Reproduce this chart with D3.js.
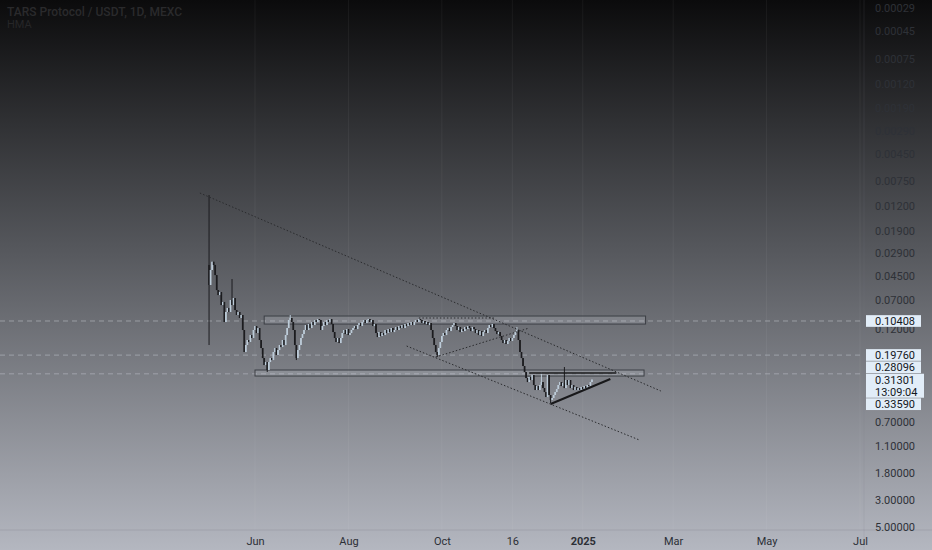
<!DOCTYPE html>
<html>
<head>
<meta charset="utf-8">
<script src="https://cdn.jsdelivr.net/npm/d3@7"></script>
<style>
  body { margin: 0; background: #000; }
  text { font-family: Roboto, "Noto Sans", sans-serif; }
</style>
</head>
<body>
<div id="chart"></div>
<script>
// ---- values ----
var symbolTitle = "TARS Protocol / USDT, 1D, MEXC";
var indicatorName = "HMA";
var firstDay = new Date(2024, 4, 2);
var firstOpen = 0.0363;
// daily closes, one per candle
var closes = [
  0.0529, 0.0399, 0.0342, 0.0363, 0.0439, 0.0582, 0.0639, 0.0604, 0.0771, 0.0728,
  0.1061, 0.0879, 0.0815, 0.0879, 0.0702, 0.0771, 0.0676, 0.0847, 0.0930, 0.0879,
  0.0984, 0.0930, 0.1233, 0.1865, 0.1635, 0.1488, 0.1545, 0.1355, 0.1433, 0.1233,
  0.1144, 0.1305, 0.1188, 0.1488, 0.1730, 0.2088, 0.2381, 0.2251, 0.2615, 0.2251,
  0.2088, 0.2168, 0.1865, 0.1730, 0.1973, 0.1796, 0.1635, 0.1698, 0.1488, 0.1635,
  0.1355, 0.1188, 0.1022, 0.0984, 0.1061, 0.1233, 0.1635, 0.2088, 0.1796, 0.1635,
  0.1433, 0.1330, 0.1233, 0.1123, 0.1233, 0.1102, 0.1188, 0.1061, 0.1123, 0.1022,
  0.1061, 0.1003, 0.1022, 0.1233, 0.1144, 0.1061, 0.1123, 0.1022, 0.1061, 0.1003,
  0.1102, 0.1281, 0.1433, 0.1545, 0.1433, 0.1575, 0.1433, 0.1305, 0.1233, 0.1330,
  0.1211, 0.1355, 0.1305, 0.1233, 0.1188, 0.1144, 0.1211, 0.1123, 0.1081, 0.1144,
  0.1061, 0.1022, 0.1081, 0.1022, 0.1003, 0.1061, 0.1022, 0.1144, 0.1102, 0.1305,
  0.1407, 0.1281, 0.1381, 0.1305, 0.1355, 0.1233, 0.1305, 0.1211, 0.1281, 0.1188,
  0.1281, 0.1233, 0.1166, 0.1233, 0.1144, 0.1188, 0.1123, 0.1188, 0.1102, 0.1144,
  0.1081, 0.1123, 0.1061, 0.1123, 0.1061, 0.1022, 0.1061, 0.1003, 0.1022, 0.1081,
  0.1041, 0.1102, 0.1061, 0.1123, 0.1081, 0.1233, 0.1433, 0.1635, 0.1865, 0.1973,
  0.1730, 0.1545, 0.1381, 0.1305, 0.1355, 0.1233, 0.1188, 0.1257, 0.1166, 0.1123,
  0.1081, 0.1144, 0.1233, 0.1166, 0.1281, 0.1211, 0.1257, 0.1166, 0.1211, 0.1144,
  0.1188, 0.1257, 0.1166, 0.1211, 0.1305, 0.1233, 0.1355, 0.1257, 0.1381, 0.1281,
  0.1233, 0.1305, 0.1188, 0.1123, 0.1166, 0.1102, 0.1188, 0.1257, 0.1330, 0.1281,
  0.1381, 0.1488, 0.1575, 0.1488, 0.1604, 0.1516, 0.1433, 0.1516, 0.1433, 0.1355,
  0.1281, 0.1233, 0.1488, 0.1865, 0.2088, 0.2427, 0.2716, 0.3040, 0.3278, 0.2984,
  0.3157, 0.2874, 0.3468, 0.3809, 0.3534, 0.3809, 0.3468, 0.3278, 0.3670, 0.3956,
  0.4345, 0.2874, 0.4184, 0.4596, 0.4427, 0.4184, 0.3956, 0.3739, 0.3468, 0.3278,
  0.3534, 0.3340, 0.3670, 0.3157, 0.3468, 0.3157, 0.3670, 0.3468, 0.3809, 0.3601,
  0.3809, 0.3670, 0.3809, 0.3601, 0.3739, 0.3534, 0.3670, 0.3468, 0.3534, 0.3278,
  0.31301
];
// long wicks that stick out of the body: [candle index, low, high]
var wicks = [
  [0, 0.00975, 0.1635], [15, 0.0473, 0.0771], [38, 0.2251, 0.2716],
  [53, 0.0930, 0.1022], [57, 0.1635, 0.2168], [149, 0.1865, 0.2049],
  [201, 0.1166, 0.1281], [217, 0.2716, 0.3468], [223, 0.4184, 0.4863],
  [232, 0.2473, 0.3670]
];
var priceTicks = [0.00029, 0.00045, 0.00075, 0.0012, 0.0019, 0.0029, 0.0045, 0.0075,
  0.012, 0.019, 0.029, 0.045, 0.07, 0.12, 0.7, 1.1, 1.8, 3, 5];
var dateTicks = [new Date(2024, 5, 1), new Date(2024, 7, 1), new Date(2024, 9, 1),
  new Date(2024, 10, 16), new Date(2025, 0, 1), new Date(2025, 2, 1),
  new Date(2025, 4, 1), new Date(2025, 6, 1)];
var dateLabels = ["Jun", "Aug", "Oct", "16", "2025", "Mar", "May", "Jul"];
var levelLines = [0.10408, 0.19760, 0.28096];
var lastPrice = 0.31301, countdown = "13:09:04", hmaLast = 0.33590;
var boxFrom = [new Date(2024, 5, 7), new Date(2024, 5, 1)];
var boxTo = [new Date(2025, 1, 11), new Date(2025, 1, 10)];
var boxLow = [0.0948, 0.2615];
var boxHigh = [0.1102, 0.2928];
var dottedLines = [
  [new Date(2024, 3, 26), 0.00939, new Date(2025, 1, 21), 0.3882],
  [new Date(2024, 8, 8), 0.1666, new Date(2025, 1, 7), 0.975],
  [new Date(2024, 8, 27), 0.2049, new Date(2024, 10, 27), 0.1188],
  [new Date(2024, 8, 16), 0.0984, new Date(2024, 10, 4), 0.0984]
];
var solidLines = [
  [new Date(2024, 10, 27), 0.2767, new Date(2025, 0, 23), 0.2767, 1.5],
  [new Date(2024, 11, 11), 0.4953, new Date(2025, 0, 19), 0.3098, 2]
];

var W = 932, H = 550, plotRight = 864, plotBottom = 530;

var svg = d3.select("#chart").append("svg")
  .attr("width", W).attr("height", H);

// background gradient
var defs = svg.append("defs");
var grad = defs.append("linearGradient").attr("id", "bg")
  .attr("x1", 0).attr("y1", 0).attr("x2", 0).attr("y2", 1);
grad.append("stop").attr("offset", "0%").attr("stop-color", "#0b0b0c");
grad.append("stop").attr("offset", "45%").attr("stop-color", "#55575c");
grad.append("stop").attr("offset", "100%").attr("stop-color", "#b4b7c0");
defs.append("clipPath").attr("id", "plot")
  .append("rect").attr("width", plotRight).attr("height", plotBottom);
svg.append("rect").attr("width", W).attr("height", H).attr("fill", "url(#bg)");

// scales (price axis inverted log)
var x = d3.scaleTime()
  .domain([new Date(2024, 5, 1), new Date(2025, 6, 1)])
  .range([255, 860]);
var y = d3.scaleLog().domain([0.00029, 5]).range([8, 527]);

// grid
svg.append("g").selectAll("line").data(dateTicks).enter().append("line")
  .attr("x1", d => x(d)).attr("x2", d => x(d))
  .attr("y1", 0).attr("y2", plotBottom)
  .attr("stroke", "rgba(255,255,255,0.05)");

var plot = svg.append("g").attr("clip-path", "url(#plot)");

// horizontal level lines
plot.selectAll(".lvl").data(levelLines).enter().append("line")
  .attr("x1", 0).attr("x2", plotRight)
  .attr("y1", d => y(d)).attr("y2", d => y(d))
  .attr("stroke", "#b3b7bf").attr("stroke-opacity", 0.65)
  .attr("stroke-dasharray", "5,4");

// rectangles
boxFrom.forEach(function (d, i) {
  plot.append("rect")
    .attr("x", x(d)).attr("width", x(boxTo[i]) - x(d))
    .attr("y", y(boxLow[i])).attr("height", y(boxHigh[i]) - y(boxLow[i]))
    .attr("fill", "rgba(200,205,215,0.22)")
    .attr("stroke", "#3c3f45").attr("stroke-width", 1);
});

// candles
var candles = closes.map(function (c, i) {
  var o = i == 0 ? firstOpen : closes[i - 1];
  return { date: d3.timeDay.offset(firstDay, i), o: o, c: c,
    lo: Math.min(o, c), hi: Math.max(o, c) };
});
wicks.forEach(function (w) {
  candles[w[0]].lo = Math.min(candles[w[0]].lo, w[1]);
  candles[w[0]].hi = Math.max(candles[w[0]].hi, w[2]);
});
var colUp = "#1c1c1f", colDown = "#bccbd8";
plot.selectAll(".wick").data(candles).enter().append("line")
  .attr("x1", d => x(d.date)).attr("x2", d => x(d.date))
  .attr("y1", d => y(d.lo)).attr("y2", d => y(d.hi))
  .attr("stroke", d => d.c >= d.o ? colUp : colDown).attr("stroke-width", 1);
plot.selectAll(".body").data(candles).enter().append("rect")
  .attr("x", d => x(d.date) - 0.85).attr("width", 1.7)
  .attr("y", d => y(Math.min(d.o, d.c)))
  .attr("height", d => Math.max(1, Math.abs(y(d.c) - y(d.o))))
  .attr("fill", d => d.c >= d.o ? colUp : colDown);

// trend lines
plot.selectAll(".dot").data(dottedLines).enter().append("line")
  .attr("x1", d => x(d[0])).attr("y1", d => y(d[1]))
  .attr("x2", d => x(d[2])).attr("y2", d => y(d[3]))
  .attr("stroke", "#2a2b2e").attr("stroke-width", 1)
  .attr("stroke-dasharray", "1.5,2");
plot.selectAll(".sol").data(solidLines).enter().append("line")
  .attr("x1", d => x(d[0])).attr("y1", d => y(d[1]))
  .attr("x2", d => x(d[2])).attr("y2", d => y(d[3]))
  .attr("stroke", "#18181a").attr("stroke-width", d => d[4]);

// axis separators
svg.append("line").attr("x1", plotRight).attr("x2", plotRight)
  .attr("y1", 0).attr("y2", H).attr("stroke", "rgba(120,124,134,0.15)");
svg.append("line").attr("x1", 0).attr("x2", W)
  .attr("y1", plotBottom).attr("y2", plotBottom).attr("stroke", "rgba(120,124,134,0.25)");

// price axis
var yAxis = svg.append("g").attr("transform", "translate(" + plotRight + ",0)")
  .call(d3.axisRight(y).tickValues(priceTicks).tickSize(0).tickPadding(11)
    .tickFormat(d3.format(".5f")));
yAxis.select(".domain").remove();
yAxis.selectAll("text").attr("fill", "#2e3137").style("font-size", "11px");

// date axis
var xAxis = svg.append("g").attr("transform", "translate(0," + plotBottom + ")")
  .call(d3.axisBottom(x).tickValues(dateTicks).tickSize(0).tickPadding(7)
    .tickFormat((d, i) => dateLabels[i]));
xAxis.select(".domain").remove();
xAxis.selectAll("text").attr("fill", "#2c2f36").style("font-size", "11px")
  .style("font-weight", (d, i) => dateLabels[i] == "2025" ? "bold" : "normal");

// price labels, stacked around the current price box
var rowH = 12.3;
var cy = y(lastPrice);
var curTop = cy - rowH / 2, curBot = curTop + rowH * 2;
var labels = [];
var above = levelLines.filter(v => y(v) < cy).sort((a, b) => y(b) - y(a));
var lim = curTop;
above.forEach(function (v) {
  var p = Math.min(y(v), lim - rowH / 2);
  labels.push({ v: v, y: p });
  lim = p - rowH / 2;
});
var p2 = Math.max(y(hmaLast), curBot + rowH / 2);
labels.push({ v: hmaLast, y: p2 });
var labFill = "#e2edf8";
labels.forEach(function (l) {
  svg.append("rect").attr("x", 866).attr("y", l.y - rowH / 2 + 0.3)
    .attr("width", 55).attr("height", rowH - 0.6).attr("fill", labFill);
  svg.append("text").attr("x", 875).attr("y", l.y + 4)
    .attr("fill", "#131722").style("font-size", "11px").text(d3.format(".5f")(l.v));
});
svg.append("rect").attr("x", 866).attr("y", curTop + 0.3)
  .attr("width", 58).attr("height", rowH * 2 - 0.6).attr("fill", labFill);
svg.append("text").attr("x", 875).attr("y", cy + 4)
  .attr("fill", "#131722").style("font-size", "11px").text(d3.format(".5f")(lastPrice));
svg.append("text").attr("x", 875).attr("y", cy + rowH + 4)
  .attr("fill", "#131722").style("font-size", "11px").text(countdown);

// legend
svg.append("text").attr("x", 7).attr("y", 16)
  .attr("fill", "#2a2a2c").style("font-size", "12px").style("font-weight", "500")
  .text(symbolTitle);
svg.append("text").attr("x", 7).attr("y", 28)
  .attr("fill", "#262628").style("font-size", "11px")
  .text(indicatorName);
</script>
</body>
</html>
